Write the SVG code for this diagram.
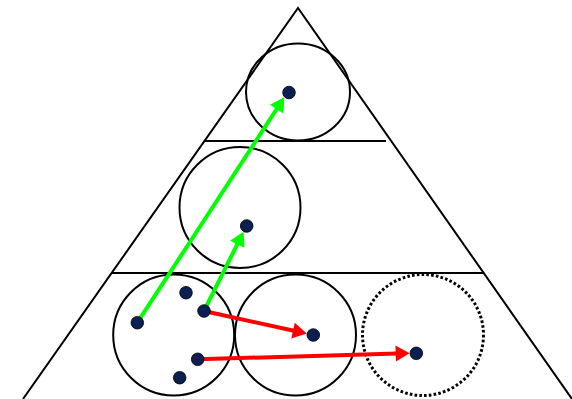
<svg xmlns="http://www.w3.org/2000/svg" width="572" height="399" viewBox="0 0 572 399">
<style>
.ln{stroke:#000;stroke-width:2;fill:none}
.dot{fill:#0c1f52;stroke:#000;stroke-width:0.8}
.g{stroke:#00ff00;stroke-width:4;fill:none}
.r{stroke:#ff0000;stroke-width:4;fill:none}
</style>
<defs>
<marker id="ag" markerUnits="userSpaceOnUse" markerWidth="14" markerHeight="16" refX="2" refY="8" orient="auto" overflow="visible"><path d="M0,0 L14,8 L0,16 z" fill="#00ff00"/></marker>
<marker id="ar" markerUnits="userSpaceOnUse" markerWidth="14" markerHeight="16" refX="2" refY="8" orient="auto" overflow="visible"><path d="M0,0 L14,8 L0,16 z" fill="#ff0000"/></marker>
</defs>
<rect width="572" height="399" fill="#fff"/>
<g id="pyramid">
<polyline class="ln" points="23,399 298,8 572,399"/>
<line class="ln" x1="205" y1="141" x2="386" y2="141"/>
<line class="ln" x1="112" y1="273" x2="484" y2="273"/>
</g>
<g id="top-circle"><ellipse class="ln" cx="298" cy="92" rx="52" ry="48.5"/></g>
<g id="mid-circle"><circle class="ln" cx="240" cy="207.5" r="60.5"/></g>
<g id="bottom-left-circle"><circle class="ln" cx="173.7" cy="335" r="60.5"/></g>
<g id="bottom-mid-circle"><circle class="ln" cx="295.5" cy="335" r="60.5"/></g>
<g id="bottom-right-circle"><circle cx="423" cy="335" r="60.5" fill="none" stroke="#000" stroke-width="3" stroke-dasharray="2.6 2.2"/></g>
<g id="connectors">
<line class="g" x1="137.3" y1="322.7" x2="277.8" y2="107.4" marker-end="url(#ag)"/>
<line class="g" x1="204" y1="311" x2="238.2" y2="242.5" marker-end="url(#ag)"/>
<line class="r" x1="204" y1="311" x2="295" y2="331" marker-end="url(#ar)"/>
<line class="r" x1="197.7" y1="359.3" x2="397.7" y2="353.5" marker-end="url(#ar)"/>
</g>
<g id="dots">
<circle class="dot" cx="289" cy="92.5" r="6.3"/>
<circle class="dot" cx="246.7" cy="226" r="6.3"/>
<circle class="dot" cx="137.3" cy="322.7" r="6.3"/>
<circle class="dot" cx="186" cy="292.7" r="6.3"/>
<circle class="dot" cx="204" cy="311" r="6.3"/>
<circle class="dot" cx="197.7" cy="359.3" r="6.3"/>
<circle class="dot" cx="179.7" cy="377.7" r="6.3"/>
<circle class="dot" cx="313.3" cy="335" r="6.3"/>
<circle class="dot" cx="416.3" cy="353.3" r="6.3"/>
</g>
</svg>
